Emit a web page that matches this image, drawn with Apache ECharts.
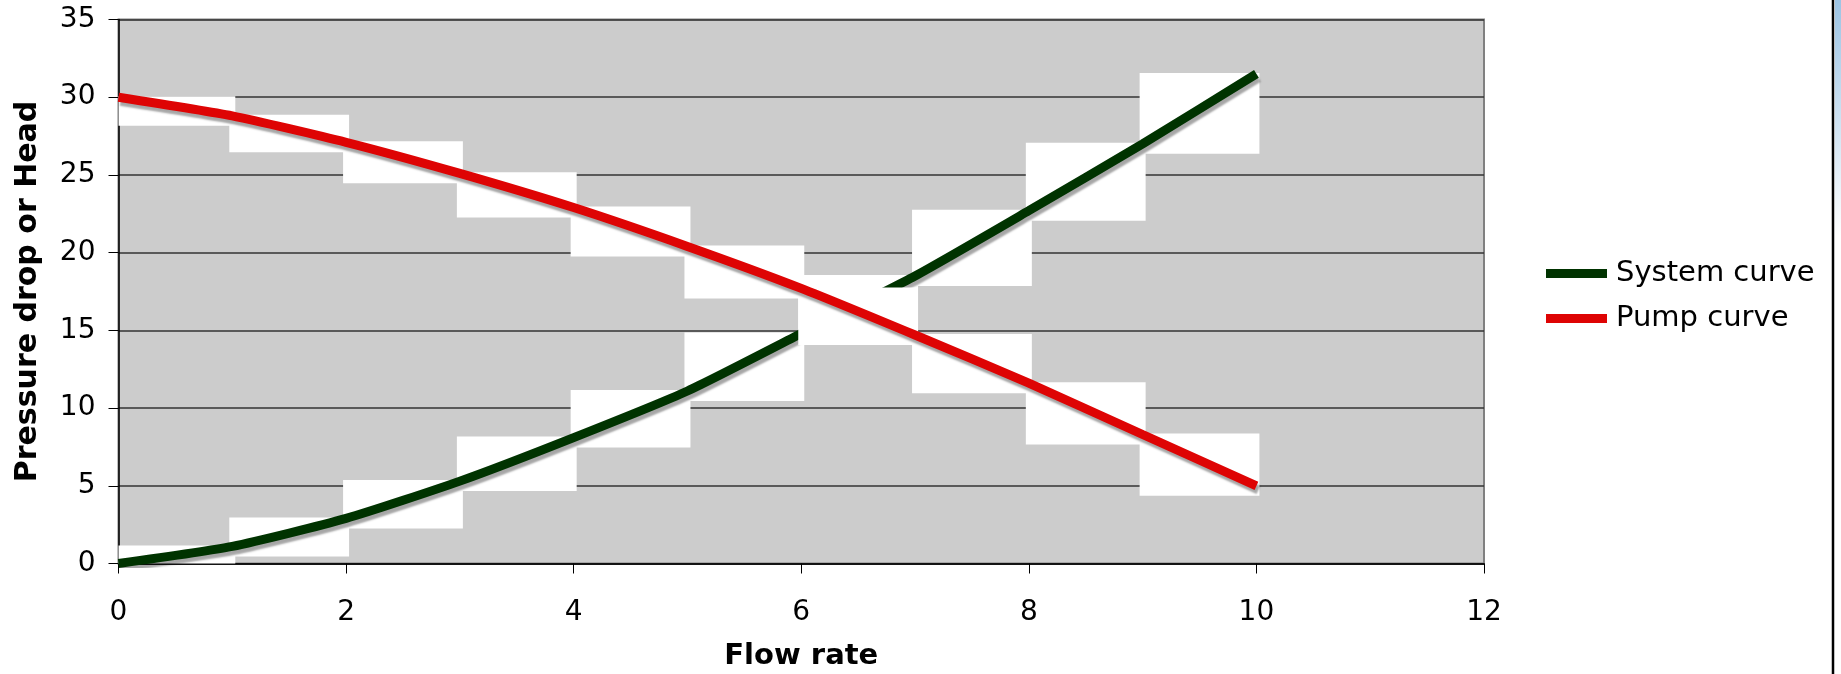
<!doctype html>
<html>
<head>
    <meta charset="utf-8">
    <title>Pump and system curve</title>
    <script src="https://cdn.jsdelivr.net/npm/echarts@6/dist/echarts.min.js"></script>
    <style>
        html, body{
            margin:0;
            padding:0;
            background:#fff;
        }
        #chart{
            width:1841px;
            height:674px;
        }
    </style>
</head>
<body>
<div id="chart"></div>
<script>
    // flow rate points and the two curves
    var flowRate = [0, 1, 2, 3, 4, 5, 6, 7, 8, 9, 10];
    var systemCurve = [0, 1.1, 2.9, 5.3, 8.1, 11.1, 14.8, 18.5, 22.7, 27.0, 31.5];
    var pumpCurve = [30.0, 28.8, 27.1, 25.1, 22.9, 20.4, 17.7, 14.7, 11.6, 8.3, 5.0];
    var seriesNames = ['System curve', 'Pump curve'];

    var FONT = 'DejaVu Sans';

    function points(ys){
        return flowRate.map(function(x, i){ return [x, ys[i]]; });
    }

    // one item per segment: [x0, y0, x1, y1]
    function segments(ys){
        var out = [];
        for (var i = 0; i < flowRate.length - 1; i++) {
            out.push([flowRate[i], ys[i], flowRate[i + 1], ys[i + 1]]);
        }
        return out;
    }

    // white box behind each segment, like the old chart export
    function boxItem(params, api){
        var p0 = api.coord([api.value(0), api.value(1)]);
        var p1 = api.coord([api.value(2), api.value(3)]);
        var cs = params.coordSys;
        var x0 = Math.max(cs.x, p0[0] - 3);
        var x1 = Math.min(cs.x + cs.width, p1[0] + 3);
        var top = Math.min(p0[1], p1[1]) - 1;
        var bot = Math.min(cs.y + cs.height, Math.max(p0[1], p1[1]) + 10);
        return {
            type: 'rect',
            shape: {x: x0, y: top, width: x1 - x0, height: bot - top},
            style: {fill: '#ffffff'}
        };
    }

    function boxSeries(ys, z){
        return {
            type: 'custom',
            z: z,
            renderItem: boxItem,
            data: segments(ys),
            encode: {x: [0, 2], y: [1, 3]},
            silent: true
        };
    }

    function lineSeries(name, ys, color, z){
        return {
            name: name,
            type: 'line',
            z: z,
            data: points(ys),
            color: color,
            showSymbol: false,
            smooth: 0.2,
            lineStyle: {
                width: 9,
                color: color,
                shadowColor: 'rgba(0,0,0,0.35)',
                shadowBlur: 2,
                shadowOffsetX: 2,
                shadowOffsetY: 4
            }
        };
    }

    var myChart = echarts.init(document.getElementById('chart'));
    var option = {
        animation: false,
        backgroundColor: '#ffffff',
        grid: {
            left: 118.5,
            right: 357,
            top: 19.5,
            bottom: 110.5,
            outerBoundsMode: 'none',
            show: true,
            backgroundColor: '#cccccc',
            borderColor: '#808080',
            borderWidth: 2
        },
        legend: {
            orient: 'vertical',
            left: 1541,
            top: 254,
            icon: 'rect',
            itemWidth: 61,
            itemHeight: 9,
            itemGap: 16,
            data: seriesNames,
            textStyle: {
                fontFamily: FONT,
                fontSize: 29,
                color: '#000',
                padding: [0, 0, 0, 4]
            }
        },
        xAxis: {
            type: 'value',
            min: 0,
            max: 12,
            interval: 2,
            name: 'Flow rate',
            nameLocation: 'middle',
            nameGap: 78,
            nameTextStyle: {
                fontFamily: FONT,
                fontSize: 29,
                fontWeight: 'bold',
                color: '#000'
            },
            axisLine: {lineStyle: {color: '#000', width: 1.5}},
            axisTick: {length: 10, lineStyle: {color: '#000'}},
            axisLabel: {
                fontFamily: FONT,
                fontSize: 28,
                color: '#000',
                margin: 35
            },
            splitLine: {show: false}
        },
        yAxis: {
            type: 'value',
            min: 0,
            max: 35,
            interval: 5,
            name: 'Pressure drop or Head',
            nameLocation: 'middle',
            nameGap: 75,
            nameTextStyle: {
                fontFamily: FONT,
                fontSize: 30,
                fontWeight: 'bold',
                color: '#000'
            },
            axisLine: {lineStyle: {color: '#000', width: 1.5}},
            axisTick: {length: 10, lineStyle: {color: '#000'}},
            axisLabel: {
                fontFamily: FONT,
                fontSize: 28,
                color: '#000',
                margin: 23
            },
            splitLine: {lineStyle: {color: '#333333', width: 1.5}}
        },
        graphic: [
            {
                type: 'rect',
                shape: {x: 1835, y: 0, width: 6, height: 674},
                style: {
                    fill: {
                        type: 'linear', x: 0, y: 0, x2: 0, y2: 1,
                        colorStops: [
                            {offset: 0, color: '#9cc4e4'},
                            {offset: 0.35, color: '#ffffff'},
                            {offset: 1, color: '#ffffff'}
                        ]
                    }
                }
            },
            {
                type: 'line',
                shape: {x1: 1833, y1: 0, x2: 1833, y2: 674},
                style: {stroke: '#000', lineWidth: 2.5}
            }
        ],
        series: [
            boxSeries(systemCurve, 2),
            lineSeries(seriesNames[0], systemCurve, '#003300', 3),
            boxSeries(pumpCurve, 4),
            lineSeries(seriesNames[1], pumpCurve, '#de0404', 5)
        ]
    };
    myChart.setOption(option);
</script>
</body>
</html>
